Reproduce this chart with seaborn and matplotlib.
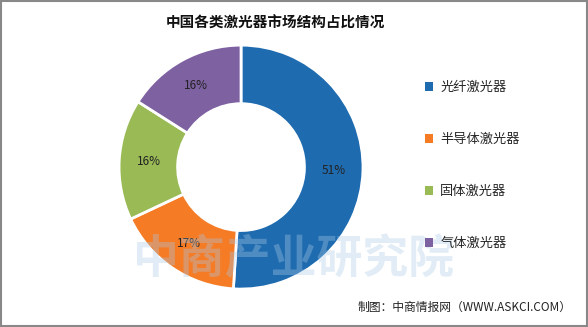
import matplotlib
matplotlib.use("Agg")
import matplotlib.pyplot as plt
import seaborn as sns
import numpy as np
from matplotlib.patches import Patch, Rectangle

# Data
categories = ["光纤激光器", "半导体激光器", "固体激光器", "气体激光器"]
shares = [51, 17, 16, 16]
pct_labels = ["51%", "17%", "16%", "16%"]
title = "中国各类激光器市场结构占比情况"
source = "制图：中商情报网（WWW.ASKCI.COM）"
watermark = "中商产业研究院"

sns.set_theme(style="white")
plt.rcParams['font.family'] = ['Noto Sans CJK SC', 'DejaVu Sans']

colors = sns.color_palette(["#1F6BB0", "#F57B25", "#99BA55", "#7E61A1"])

fig = plt.figure(figsize=(5.88, 3.27), dpi=100)
fig.patch.set_facecolor("white")

ax = fig.add_axes([0.2024, 0.116, 0.415, 0.746])
wedges, _ = ax.pie(shares, colors=colors, startangle=90, counterclock=False,
                   radius=1.0,
                   wedgeprops=dict(width=0.48, edgecolor="white", linewidth=2))
cum = np.cumsum([0] + shares[:-1])
for s, c, lab in zip(shares, cum, pct_labels):
    ang = np.deg2rad(90 - (c + s / 2) / sum(shares) * 360)
    r = 0.76
    ax.text(r * np.cos(ang), r * np.sin(ang), lab, ha="center", va="center",
            fontsize=8.5, color="#222222", zorder=5)
ax.set_xlim(-1.0, 1.0)
ax.set_ylim(-1.0, 1.0)
ax.set_aspect("equal")
ax.axis("off")

# faint watermark drawn over the chart like the reference
fig.text(0.50, 0.205, watermark, ha="center", va="center", fontsize=33,
         fontweight="bold", color="#A9CBE6", alpha=0.35, zorder=3)

handles = [Patch(facecolor=c, edgecolor="none") for c in colors]
fig.legend(handles, categories, loc="upper left", bbox_to_anchor=(0.713, 0.768),
           frameon=False, fontsize=9.5, handlelength=0.65, handleheight=0.65,
           handletextpad=0.55, labelspacing=2.95, borderaxespad=0)

fig.text(0.468, 0.93, title, ha="center", va="center", fontsize=10.5,
         fontweight="bold", color="#111111")
fig.text(0.972, 0.06, source, ha="right", va="center", fontsize=8.5,
         color="#222222")

fig.add_artist(Rectangle((0.001, 0.002), 0.997, 0.995, transform=fig.transFigure,
                         fill=False, edgecolor="#888888", linewidth=1.5))

fig.savefig("out.png", dpi=100)
